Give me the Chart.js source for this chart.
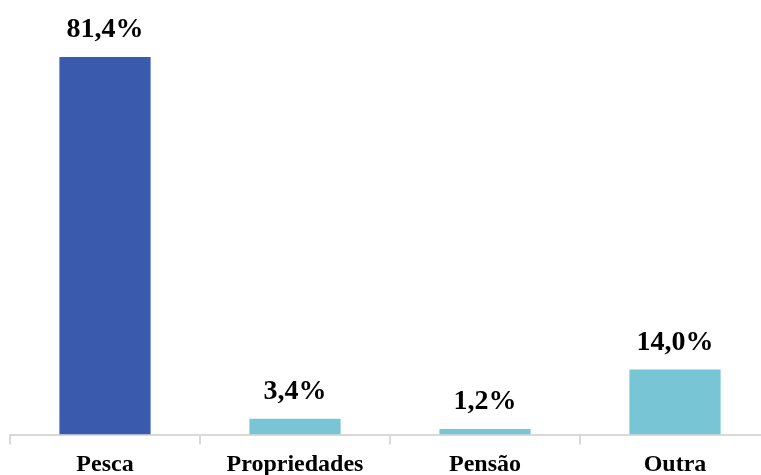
<!DOCTYPE html>
<html>
<head>
<meta charset="utf-8">
<script src="https://cdn.jsdelivr.net/npm/chart.js@4/dist/chart.umd.min.js"></script>
<style>
  html, body { margin: 0; padding: 0; background: #ffffff; overflow: hidden; }
  #wrap { width: 780px; height: 475px; }
</style>
</head>
<body>
<div id="wrap"><canvas id="chart" width="780" height="475"></canvas></div>
<script>
// Fonte de rendimento dos agregados (%)
const categories = ['Pesca', 'Propriedades', 'Pensão', 'Outra'];
const values = [81.4, 3.4, 1.2, 14.0];
const barColors = ['#3A5BAD', '#78C5D5', '#78C5D5', '#78C5D5'];

const serif = '"Liberation Serif", "Times New Roman", serif';

// Percentage labels written above each bar
const valueLabels = {
  id: 'valueLabels',
  afterDatasetsDraw(chart) {
    const ctx = chart.ctx;
    const meta = chart.getDatasetMeta(0);
    ctx.save();
    ctx.font = 'bold 28px ' + serif;
    ctx.fillStyle = '#000000';
    ctx.textAlign = 'center';
    ctx.textBaseline = 'alphabetic';
    meta.data.forEach((bar, i) => {
      const txt = values[i].toFixed(1).replace('.', ',') + '%';
      ctx.fillText(txt, bar.x, bar.y - 20);
    });
    ctx.restore();
  }
};

new Chart(document.getElementById('chart'), {
  type: 'bar',
  data: {
    labels: categories,
    datasets: [{
      data: values,
      backgroundColor: barColors,
      borderWidth: 0,
      categoryPercentage: 1.0,
      barPercentage: 0.48
    }]
  },
  options: {
    responsive: false,
    animation: false,
    layout: { padding: { left: 10, right: 10, top: 17, bottom: 0 } },
    plugins: { legend: { display: false }, tooltip: { enabled: false } },
    scales: {
      y: { display: false, min: 0, max: 90 },
      x: {
        afterFit(scale) { scale.height = 40.5; },
        border: { display: true, color: '#D9D9D9', width: 2 },
        grid: {
          offset: true,
          drawOnChartArea: false,
          drawTicks: true,
          tickLength: 10,
          color: '#D9D9D9',
          lineWidth: 2
        },
        ticks: {
          color: '#000000',
          padding: 6,
          font: { family: serif, size: 24, weight: 'bold' }
        }
      }
    }
  },
  plugins: [valueLabels]
});
</script>
</body>
</html>
